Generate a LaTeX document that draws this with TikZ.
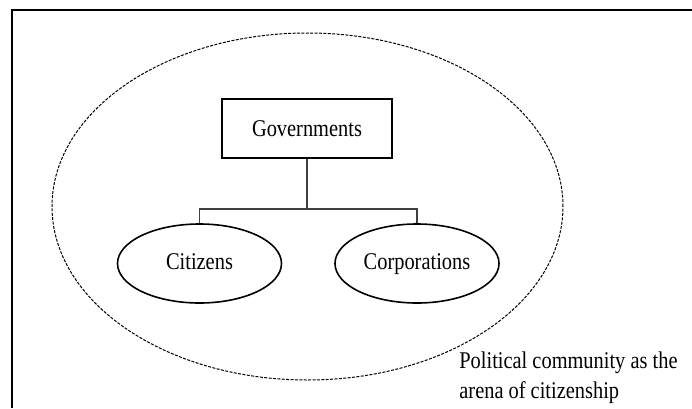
\documentclass[tikz,border=0pt]{standalone}
\usepackage{fontspec}
\setmainfont[FakeStretch=0.85]{Liberation Serif}
\usetikzlibrary{shapes,positioning}
\tikzstyle{govbox} = [draw, thick, minimum width=85pt, minimum height=29.5pt, inner sep=0pt]
\tikzstyle{actor} = [draw, ellipse, thick, minimum width=82pt, minimum height=39.5pt, inner sep=0pt, text height=1.5ex, text depth=0.3ex]
\tikzstyle{link} = [thick, color=black!75]

\begin{document}
\begin{tikzpicture}[x=0.5pt, y=-0.5pt, font=\fontsize{12pt}{15pt}\selectfont]
    \useasboundingbox (0,0) rectangle (692,408);
    % Frame
    \draw[line width=1pt] (692,10) -- (11.5,10) -- (11.5,408);

    % Arena
    \node[draw, ellipse, dashed, dash pattern=on 1.5pt off 0.7pt, line width=0.5pt,
          minimum width=255.5pt, minimum height=173.5pt, inner sep=0pt] (arena) at (307.5,206.5) {};

    % Actors
    \node[govbox] (gov) at (307,128.5) {Governments};
    \node[actor] (cit) at (199.5,263.5) {Citizens};
    \node[actor] (corp) at (417,263.5) {Corporations};
    \coordinate (fork) at (307,209);

    \draw[link] (gov) -- (fork);
    \draw[link] (fork) -| (cit);
    \draw[link] (fork) -| (corp);

    \node[anchor=west, align=left, inner sep=0pt] (label) at (459,378) {Political community as the\\arena of citizenship};
\end{tikzpicture}
\end{document}
